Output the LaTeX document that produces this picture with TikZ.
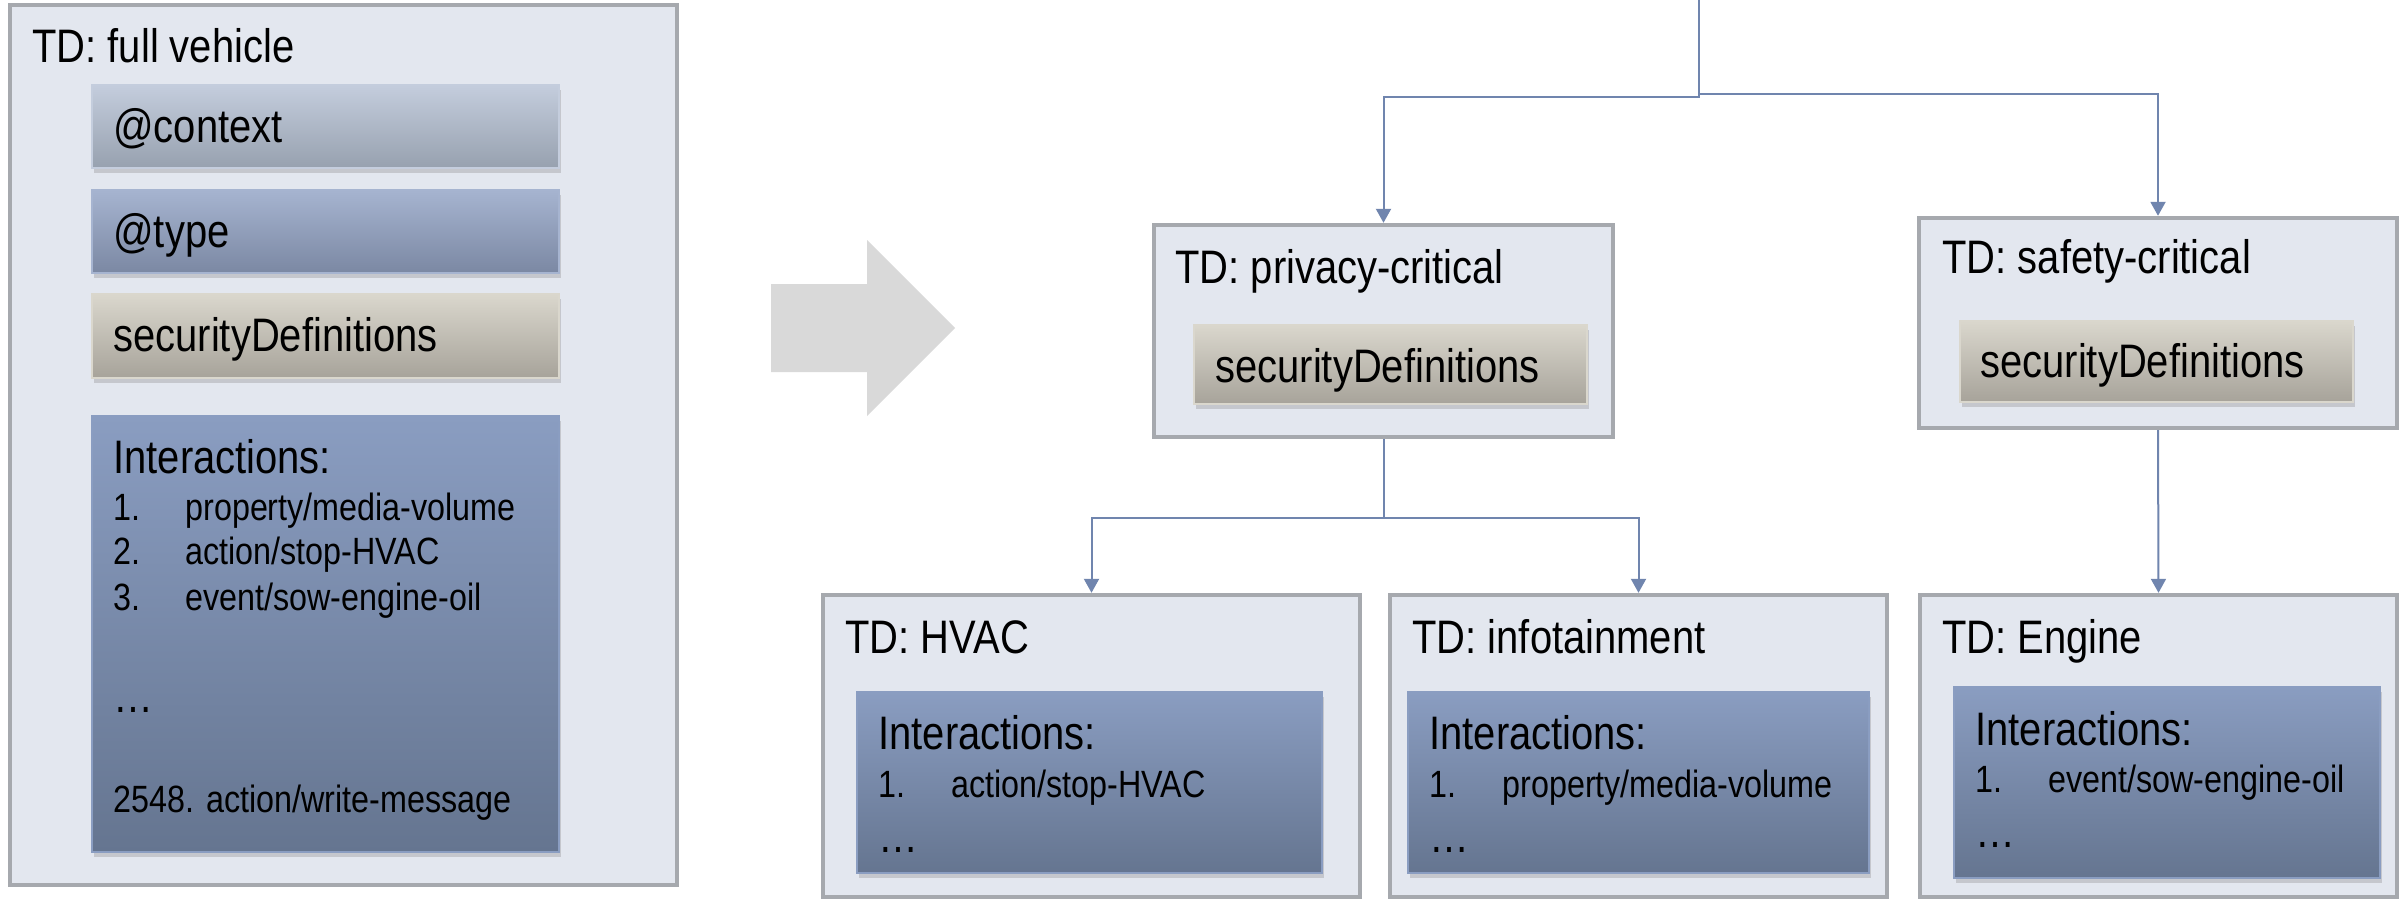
\documentclass[tikz,border=0pt]{standalone}
\usepackage{fontspec}
\setmainfont{Liberation Sans}[FakeStretch=0.85]
\usetikzlibrary{arrows.meta,fit,shadows}

\definecolor{boxfill}{HTML}{E3E7EF}
\definecolor{boxline}{HTML}{A6A9AE}
\definecolor{ctxtop}{HTML}{C4CDDD}
\definecolor{ctxbot}{HTML}{97A1AF}
\definecolor{typetop}{HTML}{A6B4D0}
\definecolor{typebot}{HTML}{7B88A3}
\definecolor{sectop}{HTML}{DAD7CD}
\definecolor{secbot}{HTML}{A7A39A}
\definecolor{inttop}{HTML}{8A9DC1}
\definecolor{intbot}{HTML}{657590}
\definecolor{linkblue}{HTML}{7085AE}
\definecolor{bigarrow}{HTML}{D9D9D9}

\newcommand{\tdbig}{\fontsize{23.5}{28}\selectfont}
\newcommand{\tdsmall}{\fontsize{19}{23}\selectfont}

\tikzset{
  tdbox/.style={draw=boxline, line width=2.2pt, fill=boxfill, inner sep=0pt},
  part/.style={inner sep=0pt, draw=#1top, line width=0.6pt, top color=#1top, bottom color=#1bot,
    drop shadow={opacity=0.3, shadow xshift=1pt, shadow yshift=-2.5pt}},
  txt/.style={anchor=base west, inner sep=0pt, font=\tdbig},
  item/.style={anchor=base west, inner sep=0pt, font=\tdsmall},
  link/.style={draw=linkblue, line width=1pt, -{Triangle[length=7pt,width=7.5pt]}},
}

\begin{document}
\begin{tikzpicture}[x=0.5pt,y=-0.5pt]
	\path[use as bounding box, fill=white] (0,0) rectangle (2400,899);
	% full vehicle
	\node[tdbox, fit={(10,5) (677,885)}] (full) {};
	\node[txt] (fullT) at (32,63) {TD: full vehicle};
	\node[part=ctx, fit={(92,85) (559,168)}] (ctx) {};
	\node[txt] (ctxT) at (113,142) {@context};
	\node[part=type, fit={(92,190) (559,273)}] (type) {};
	\node[txt] (typeT) at (113,247) {@type};
	\node[part=sec, fit={(92,294) (559,378)}] (sec) {};
	\node[txt] (secT) at (113,351) {securityDefinitions};
	\node[part=int, fit={(92,416) (559,852)}] (ints) {};
	\node[txt] (intsT) at (113,473) {Interactions:};
	\node[item] (n1) at (113,520) {1.};
	\node[item] (i1) at (185,520) {property/media-volume};
	\node[item] (n2) at (113,564) {2.};
	\node[item] (i2) at (185,564) {action/stop-HVAC};
	\node[item] (n3) at (113,610) {3.};
	\node[item] (i3) at (185,610) {event/sow-engine-oil};
	\node[txt] (dots) at (113,712) {…};
	\node[item] (i4) at (113,812) {2548. action/write-message};
	% big arrow
	\fill[bigarrow] (771,284) -- (867,284) -- (867,240) -- (955,328) -- (867,416) -- (867,372) -- (771,372) -- cycle;
	% privacy / safety
	\node[tdbox, fit={(1154,225) (1613,437)}] (priv) {};
	\node[txt] (privT) at (1175,283) {TD: privacy-critical};
	\node[part=sec, fit={(1194,325) (1587,404)}] (privS) {};
	\node[txt] (privST) at (1215,382) {securityDefinitions};
	\node[tdbox, fit={(1919,218) (2397,428)}] (safe) {};
	\node[txt] (safeT) at (1942,273) {TD: safety-critical};
	\node[part=sec, fit={(1960,321) (2353,402)}] (safeS) {};
	\node[txt] (safeST) at (1980,377) {securityDefinitions};
	% HVAC, infotainment, Engine
	\node[tdbox, fit={(823,595) (1360,897)}] (hvac) {};
	\node[txt] (hvacT) at (845,653) {TD: HVAC};
	\node[part=int, fit={(857,692) (1322,873)}] (hvacI) {};
	\node[txt] (hvacIT) at (878,749) {Interactions:};
	\node[item] (hvacN) at (878,797) {1.};
	\node[item] (hvacA) at (951,797) {action/stop-HVAC};
	\node[txt] (hvacD) at (878,852) {…};
	\node[tdbox, fit={(1390,595) (1887,897)}] (info) {};
	\node[txt] (infoT) at (1412,653) {TD: infotainment};
	\node[part=int, fit={(1408,692) (1869,873)}] (infoI) {};
	\node[txt] (infoIT) at (1429,749) {Interactions:};
	\node[item] (infoN) at (1429,797) {1.};
	\node[item] (infoA) at (1502,797) {property/media-volume};
	\node[txt] (infoD) at (1429,852) {…};
	\node[tdbox, fit={(1920,595) (2397,897)}] (engine) {};
	\node[txt] (engineT) at (1942,653) {TD: Engine};
	\node[part=int, fit={(1954,687) (2380,878)}] (engineI) {};
	\node[txt] (engineIT) at (1975,745) {Interactions:};
	\node[item] (engineN) at (1975,792) {1.};
	\node[item] (engineA) at (2048,792) {event/sow-engine-oil};
	\node[txt] (engineD) at (1975,847) {…};
	% connectors
	\coordinate (root) at (1699,0);
	\draw[link] (root) -- ++(0,97) -| (priv.north);
	\draw[link] (root) -- ++(0,94) -| (safe.north);
	\draw[link] (priv.south) -- ++(0,79) -| (hvac.north);
	\draw[link] (priv.south) -- ++(0,79) -| (info.north);
	\draw[link] (safe.south) -- (engine.north);
\end{tikzpicture}
\end{document}
